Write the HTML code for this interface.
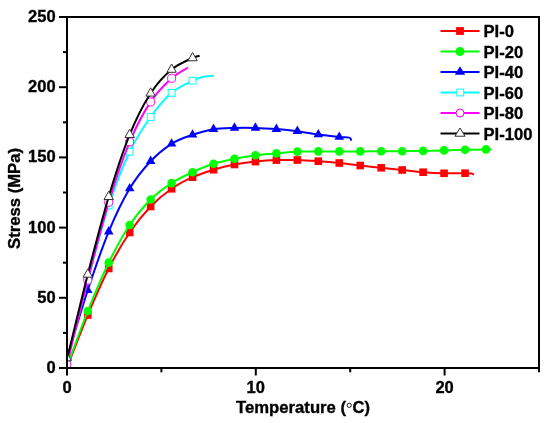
<!DOCTYPE html><html><head><meta charset="utf-8"><style>html,body{margin:0;padding:0;background:#fff;}svg{display:block;will-change:transform;}</style></head><body>
<svg width="550" height="423" viewBox="0 0 550 423" font-family="Liberation Sans, sans-serif" font-weight="bold">
<style>text{stroke:#000;stroke-width:0.35px;}</style>
<rect width="550" height="423" fill="#fff"/>
<defs><clipPath id="pc"><rect x="67" y="17" width="472" height="351"/></clipPath></defs>
<g clip-path="url(#pc)">
<path d="M66.80,368.00 C70.29,359.17 80.77,331.58 87.76,315.00 C94.75,298.42 101.73,282.25 108.72,268.50 C115.71,254.75 122.69,242.83 129.68,232.50 C136.67,222.17 143.65,213.78 150.64,206.50 C157.63,199.22 164.61,193.68 171.60,188.80 C178.59,183.92 185.57,180.38 192.56,177.20 C199.55,174.02 206.53,171.82 213.52,169.70 C220.51,167.58 227.49,165.85 234.48,164.50 C241.47,163.15 248.45,162.33 255.44,161.60 C262.43,160.87 269.41,160.37 276.40,160.10 C283.39,159.83 290.37,159.82 297.36,160.00 C304.35,160.18 311.33,160.70 318.32,161.20 C325.31,161.70 332.29,162.28 339.28,163.00 C346.27,163.72 353.25,164.70 360.24,165.50 C367.23,166.30 374.21,167.05 381.20,167.80 C388.19,168.55 395.17,169.27 402.16,170.00 C409.15,170.73 416.13,171.65 423.12,172.20 C430.11,172.75 437.09,173.13 444.08,173.30 C451.07,173.47 460.47,173.18 465.04,173.20 C469.61,173.22 470.04,173.13 471.50,173.40 C472.96,173.67 473.42,174.57 473.80,174.80" stroke="#ff0000" fill="none" stroke-width="2" stroke-linejoin="round"/>
<rect x="63.00" y="361.20" width="7.60" height="7.60" fill="#ff0000"/>
<rect x="83.96" y="311.20" width="7.60" height="7.60" fill="#ff0000"/>
<rect x="104.92" y="264.70" width="7.60" height="7.60" fill="#ff0000"/>
<rect x="125.88" y="228.70" width="7.60" height="7.60" fill="#ff0000"/>
<rect x="146.84" y="202.70" width="7.60" height="7.60" fill="#ff0000"/>
<rect x="167.80" y="185.00" width="7.60" height="7.60" fill="#ff0000"/>
<rect x="188.76" y="173.40" width="7.60" height="7.60" fill="#ff0000"/>
<rect x="209.72" y="165.90" width="7.60" height="7.60" fill="#ff0000"/>
<rect x="230.68" y="160.70" width="7.60" height="7.60" fill="#ff0000"/>
<rect x="251.64" y="157.80" width="7.60" height="7.60" fill="#ff0000"/>
<rect x="272.60" y="156.30" width="7.60" height="7.60" fill="#ff0000"/>
<rect x="293.56" y="156.20" width="7.60" height="7.60" fill="#ff0000"/>
<rect x="314.52" y="157.40" width="7.60" height="7.60" fill="#ff0000"/>
<rect x="335.48" y="159.20" width="7.60" height="7.60" fill="#ff0000"/>
<rect x="356.44" y="161.70" width="7.60" height="7.60" fill="#ff0000"/>
<rect x="377.40" y="164.00" width="7.60" height="7.60" fill="#ff0000"/>
<rect x="398.36" y="166.20" width="7.60" height="7.60" fill="#ff0000"/>
<rect x="419.32" y="168.40" width="7.60" height="7.60" fill="#ff0000"/>
<rect x="440.28" y="169.50" width="7.60" height="7.60" fill="#ff0000"/>
<rect x="461.24" y="169.40" width="7.60" height="7.60" fill="#ff0000"/>
<path d="M66.80,367.00 C70.29,357.67 80.77,328.40 87.76,311.00 C94.75,293.60 101.73,276.93 108.72,262.60 C115.71,248.27 122.69,235.52 129.68,225.00 C136.67,214.48 143.65,206.48 150.64,199.50 C157.63,192.52 164.61,187.65 171.60,183.10 C178.59,178.55 185.57,175.42 192.56,172.20 C199.55,168.98 206.53,166.03 213.52,163.80 C220.51,161.57 227.49,160.23 234.48,158.80 C241.47,157.37 248.45,156.10 255.44,155.20 C262.43,154.30 269.41,154.00 276.40,153.40 C283.39,152.80 290.37,151.93 297.36,151.60 C304.35,151.27 311.33,151.43 318.32,151.40 C325.31,151.37 332.29,151.40 339.28,151.40 C346.27,151.40 353.25,151.42 360.24,151.40 C367.23,151.38 374.21,151.33 381.20,151.30 C388.19,151.27 395.17,151.27 402.16,151.20 C409.15,151.13 416.13,151.03 423.12,150.90 C430.11,150.77 437.09,150.58 444.08,150.40 C451.07,150.22 458.05,149.97 465.04,149.80 C472.03,149.63 481.57,149.48 486.00,149.40 C490.43,149.32 490.67,149.32 491.60,149.30" stroke="#00ff00" fill="none" stroke-width="2" stroke-linejoin="round"/>
<circle cx="66.80" cy="364.50" r="4.30" fill="#00ff00"/>
<circle cx="87.76" cy="311.00" r="4.30" fill="#00ff00"/>
<circle cx="108.72" cy="262.60" r="4.30" fill="#00ff00"/>
<circle cx="129.68" cy="225.00" r="4.30" fill="#00ff00"/>
<circle cx="150.64" cy="199.50" r="4.30" fill="#00ff00"/>
<circle cx="171.60" cy="183.10" r="4.30" fill="#00ff00"/>
<circle cx="192.56" cy="172.20" r="4.30" fill="#00ff00"/>
<circle cx="213.52" cy="163.80" r="4.30" fill="#00ff00"/>
<circle cx="234.48" cy="158.80" r="4.30" fill="#00ff00"/>
<circle cx="255.44" cy="155.20" r="4.30" fill="#00ff00"/>
<circle cx="276.40" cy="153.40" r="4.30" fill="#00ff00"/>
<circle cx="297.36" cy="151.60" r="4.30" fill="#00ff00"/>
<circle cx="318.32" cy="151.40" r="4.30" fill="#00ff00"/>
<circle cx="339.28" cy="151.40" r="4.30" fill="#00ff00"/>
<circle cx="360.24" cy="151.40" r="4.30" fill="#00ff00"/>
<circle cx="381.20" cy="151.30" r="4.30" fill="#00ff00"/>
<circle cx="402.16" cy="151.20" r="4.30" fill="#00ff00"/>
<circle cx="423.12" cy="150.90" r="4.30" fill="#00ff00"/>
<circle cx="444.08" cy="150.40" r="4.30" fill="#00ff00"/>
<circle cx="465.04" cy="149.80" r="4.30" fill="#00ff00"/>
<circle cx="486.00" cy="149.40" r="4.30" fill="#00ff00"/>
<path d="M66.80,358.50 C70.29,347.13 80.77,311.45 87.76,290.30 C94.75,269.15 101.73,248.57 108.72,231.60 C115.71,214.63 122.69,200.23 129.68,188.50 C136.67,176.77 143.65,168.65 150.64,161.20 C157.63,153.75 164.61,148.20 171.60,143.80 C178.59,139.40 185.57,137.23 192.56,134.80 C199.55,132.37 206.53,130.35 213.52,129.20 C220.51,128.05 227.49,128.12 234.48,127.90 C241.47,127.68 248.45,127.70 255.44,127.90 C262.43,128.10 269.41,128.55 276.40,129.10 C283.39,129.65 290.37,130.30 297.36,131.20 C304.35,132.10 311.33,133.53 318.32,134.50 C325.31,135.47 334.12,136.48 339.28,137.00 C344.44,137.52 347.30,137.00 349.30,137.60 C351.30,138.20 350.97,140.10 351.30,140.60" stroke="#0000ff" fill="none" stroke-width="2" stroke-linejoin="round"/>
<path d="M66.80,351.40 L71.60,359.80 L62.00,359.80 Z" fill="#0000ff"/>
<path d="M87.76,284.70 L92.56,293.10 L82.96,293.10 Z" fill="#0000ff"/>
<path d="M108.72,226.00 L113.52,234.40 L103.92,234.40 Z" fill="#0000ff"/>
<path d="M129.68,182.90 L134.48,191.30 L124.88,191.30 Z" fill="#0000ff"/>
<path d="M150.64,155.60 L155.44,164.00 L145.84,164.00 Z" fill="#0000ff"/>
<path d="M171.60,138.20 L176.40,146.60 L166.80,146.60 Z" fill="#0000ff"/>
<path d="M192.56,129.20 L197.36,137.60 L187.76,137.60 Z" fill="#0000ff"/>
<path d="M213.52,123.60 L218.32,132.00 L208.72,132.00 Z" fill="#0000ff"/>
<path d="M234.48,122.30 L239.28,130.70 L229.68,130.70 Z" fill="#0000ff"/>
<path d="M255.44,122.30 L260.24,130.70 L250.64,130.70 Z" fill="#0000ff"/>
<path d="M276.40,123.50 L281.20,131.90 L271.60,131.90 Z" fill="#0000ff"/>
<path d="M297.36,125.60 L302.16,134.00 L292.56,134.00 Z" fill="#0000ff"/>
<path d="M318.32,128.90 L323.12,137.30 L313.52,137.30 Z" fill="#0000ff"/>
<path d="M339.28,131.40 L344.08,139.80 L334.48,139.80 Z" fill="#0000ff"/>
<path d="M66.80,362.50 C70.29,348.83 80.77,306.67 87.76,280.50 C94.75,254.33 101.73,226.97 108.72,205.50 C115.71,184.03 122.69,166.45 129.68,151.70 C136.67,136.95 143.65,126.82 150.64,117.00 C157.63,107.18 164.61,98.85 171.60,92.80 C178.59,86.75 187.16,83.38 192.56,80.70 C197.96,78.02 200.43,77.52 204.00,76.70 C207.57,75.88 212.33,75.95 214.00,75.80" stroke="#00ffff" fill="none" stroke-width="2" stroke-linejoin="round"/>
<rect x="63.40" y="357.60" width="6.80" height="6.80" fill="#ffffff" stroke="#00ffff" stroke-width="1"/>
<rect x="84.36" y="277.10" width="6.80" height="6.80" fill="#ffffff" stroke="#00ffff" stroke-width="1"/>
<rect x="105.32" y="202.10" width="6.80" height="6.80" fill="#ffffff" stroke="#00ffff" stroke-width="1"/>
<rect x="126.28" y="148.30" width="6.80" height="6.80" fill="#ffffff" stroke="#00ffff" stroke-width="1"/>
<rect x="147.24" y="113.60" width="6.80" height="6.80" fill="#ffffff" stroke="#00ffff" stroke-width="1"/>
<rect x="168.20" y="89.40" width="6.80" height="6.80" fill="#ffffff" stroke="#00ffff" stroke-width="1"/>
<rect x="189.16" y="77.30" width="6.80" height="6.80" fill="#ffffff" stroke="#00ffff" stroke-width="1"/>
<path d="M66.80,365.00 C70.29,350.83 80.77,307.13 87.76,280.00 C94.75,252.87 101.73,225.23 108.72,202.20 C115.71,179.17 122.69,158.52 129.68,141.80 C136.67,125.08 143.65,112.48 150.64,101.90 C157.63,91.32 165.37,84.03 171.60,78.30 C177.83,72.57 185.27,69.30 188.00,67.50" stroke="#ff00ff" fill="none" stroke-width="2" stroke-linejoin="round"/>
<circle cx="66.80" cy="364.50" r="4.05" fill="#ffffff" stroke="#ff00ff" stroke-width="1"/>
<circle cx="87.76" cy="280.00" r="4.05" fill="#ffffff" stroke="#ff00ff" stroke-width="1"/>
<circle cx="108.72" cy="202.20" r="4.05" fill="#ffffff" stroke="#ff00ff" stroke-width="1"/>
<circle cx="129.68" cy="141.80" r="4.05" fill="#ffffff" stroke="#ff00ff" stroke-width="1"/>
<circle cx="150.64" cy="101.90" r="4.05" fill="#ffffff" stroke="#ff00ff" stroke-width="1"/>
<circle cx="171.60" cy="78.30" r="4.05" fill="#ffffff" stroke="#ff00ff" stroke-width="1"/>
<path d="M66.80,360.00 C70.29,345.73 80.77,301.62 87.76,274.40 C94.75,247.18 101.73,219.98 108.72,196.70 C115.71,173.42 122.69,151.93 129.68,134.70 C136.67,117.47 143.65,104.17 150.64,93.30 C157.63,82.43 164.61,75.38 171.60,69.50 C178.59,63.62 187.89,60.30 192.56,58.00 C197.23,55.70 198.43,56.08 199.60,55.70" stroke="#000000" fill="none" stroke-width="2" stroke-linejoin="round"/>
<path d="M66.80,352.47 L71.50,360.77 L62.10,360.77 Z" fill="#ffffff" stroke="#303030" stroke-width="1" stroke-linejoin="miter"/>
<path d="M87.76,268.87 L92.46,277.17 L83.06,277.17 Z" fill="#ffffff" stroke="#303030" stroke-width="1" stroke-linejoin="miter"/>
<path d="M108.72,191.17 L113.42,199.47 L104.02,199.47 Z" fill="#ffffff" stroke="#303030" stroke-width="1" stroke-linejoin="miter"/>
<path d="M129.68,129.17 L134.38,137.47 L124.98,137.47 Z" fill="#ffffff" stroke="#303030" stroke-width="1" stroke-linejoin="miter"/>
<path d="M150.64,87.77 L155.34,96.07 L145.94,96.07 Z" fill="#ffffff" stroke="#303030" stroke-width="1" stroke-linejoin="miter"/>
<path d="M171.60,63.97 L176.30,72.27 L166.90,72.27 Z" fill="#ffffff" stroke="#303030" stroke-width="1" stroke-linejoin="miter"/>
<path d="M192.56,52.47 L197.26,60.77 L187.86,60.77 Z" fill="#ffffff" stroke="#303030" stroke-width="1" stroke-linejoin="miter"/>
</g>
<g stroke="#000" stroke-width="2" fill="none">
<rect x="67" y="17" width="472" height="351"/>
<line x1="59.00" y1="368.00" x2="67" y2="368.00"/>
<line x1="63.00" y1="332.90" x2="67" y2="332.90"/>
<line x1="59.00" y1="297.80" x2="67" y2="297.80"/>
<line x1="63.00" y1="262.70" x2="67" y2="262.70"/>
<line x1="59.00" y1="227.60" x2="67" y2="227.60"/>
<line x1="63.00" y1="192.50" x2="67" y2="192.50"/>
<line x1="59.00" y1="157.40" x2="67" y2="157.40"/>
<line x1="63.00" y1="122.30" x2="67" y2="122.30"/>
<line x1="59.00" y1="87.20" x2="67" y2="87.20"/>
<line x1="63.00" y1="52.10" x2="67" y2="52.10"/>
<line x1="59.00" y1="17.00" x2="67" y2="17.00"/>
<line x1="67.00" y1="368" x2="67.00" y2="375.50"/>
<line x1="161.40" y1="368" x2="161.40" y2="372.30"/>
<line x1="255.80" y1="368" x2="255.80" y2="375.50"/>
<line x1="350.20" y1="368" x2="350.20" y2="372.30"/>
<line x1="444.60" y1="368" x2="444.60" y2="375.50"/>
<line x1="539.00" y1="368" x2="539.00" y2="372.30"/>
</g>
<g font-size="16.5" fill="#000">
<text x="55.6" y="372.90" text-anchor="end">0</text>
<text x="55.6" y="302.70" text-anchor="end">50</text>
<text x="55.6" y="232.50" text-anchor="end">100</text>
<text x="55.6" y="162.30" text-anchor="end">150</text>
<text x="55.6" y="92.10" text-anchor="end">200</text>
<text x="55.6" y="21.90" text-anchor="end">250</text>
<text x="67.00" y="392.6" text-anchor="middle">0</text>
<text x="255.80" y="392.6" text-anchor="middle">10</text>
<text x="444.60" y="392.6" text-anchor="middle">20</text>
</g>
<text x="236" y="412.9" font-size="16.7">Temperature (</text>
<text x="352.6" y="412.9" font-size="16.5">C)</text>
<circle cx="349.2" cy="405.3" r="2.1" fill="none" stroke="#000" stroke-width="0.9"/>
<text transform="translate(19.8,249) rotate(-90)" font-size="16.7">Stress (MPa)</text>
<line x1="440.5" y1="31.00" x2="479.5" y2="31.00" stroke="#ff0000" stroke-width="2"/>
<rect x="456.10" y="27.10" width="7.80" height="7.80" fill="#ff0000"/>
<text x="483.5" y="37.10" font-size="16.6" fill="#000">PI-0</text>
<line x1="440.5" y1="51.50" x2="479.5" y2="51.50" stroke="#00ff00" stroke-width="2"/>
<circle cx="460.00" cy="51.50" r="4.50" fill="#00ff00"/>
<text x="483.5" y="57.60" font-size="16.6" fill="#000">PI-20</text>
<line x1="440.5" y1="72.00" x2="479.5" y2="72.00" stroke="#0000ff" stroke-width="2"/>
<path d="M460.00,66.27 L465.20,74.87 L454.80,74.87 Z" fill="#0000ff"/>
<text x="483.5" y="78.10" font-size="16.6" fill="#000">PI-40</text>
<line x1="440.5" y1="92.50" x2="479.5" y2="92.50" stroke="#00ffff" stroke-width="2"/>
<rect x="456.90" y="89.10" width="6.80" height="6.80" fill="#fff" stroke="#00ffff" stroke-width="1"/>
<text x="483.5" y="98.60" font-size="16.6" fill="#000">PI-60</text>
<line x1="440.5" y1="113.00" x2="479.5" y2="113.00" stroke="#ff00ff" stroke-width="2"/>
<circle cx="460.00" cy="113.00" r="4.00" fill="#fff" stroke="#ff00ff" stroke-width="1"/>
<text x="483.5" y="119.10" font-size="16.6" fill="#000">PI-80</text>
<line x1="440.5" y1="133.50" x2="479.5" y2="133.50" stroke="#000000" stroke-width="2"/>
<path d="M460.00,128.03 L465.00,136.23 L455.00,136.23 Z" fill="#fff" stroke="#303030" stroke-width="1" stroke-linejoin="miter"/>
<text x="483.5" y="139.60" font-size="16.6" fill="#000">PI-100</text>
</svg></body></html>
